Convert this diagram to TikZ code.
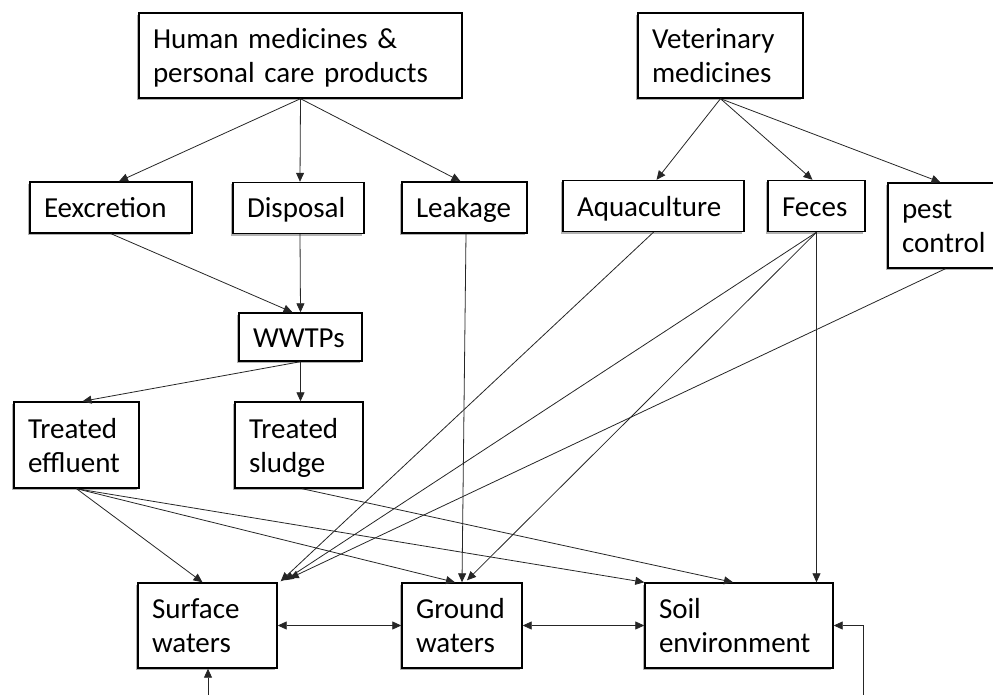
\documentclass[tikz,border=0pt]{standalone}
\usepackage{fontspec}
\setmainfont{Carlito}
\usetikzlibrary{arrows.meta, positioning, shadows}
\tikzset{>={Triangle[length=9pt, width=8pt]}}
\newcommand{\boxstrut}{\rule[-5pt]{0pt}{30pt}}

\begin{document}
\begin{tikzpicture}[x=1pt, y=-1pt,
	box/.style={draw, line width=1.4pt, fill=white, align=left, inner xsep=14pt, inner ysep=0pt,
		font=\fontsize{29}{34}\selectfont,
		execute at begin node={\hyphenpenalty=10000\relax\boxstrut}, execute at end node=\boxstrut,
		drop shadow={shadow xshift=-2pt, shadow yshift=-2pt, opacity=0.3, fill=black}},
	flow/.style={->, line width=0.8pt, draw=black!85}]
\useasboundingbox (0,0) rectangle (993,695);

\node[box, text width=295pt, minimum height=85pt](human) at (300.5,55.5){Human medicines \&\\personal care products};
\node[box, text width=137pt, minimum height=85pt](vet) at (720.5,55.5){Veterinary\\medicines};

\node[box, text width=134pt, minimum height=51pt](exc) at (111,207.5){Eexcretion};
\node[box, text width=103pt, minimum height=51pt](disp) at (298.5,208){Disposal};
\node[box, text width=97pt, minimum height=51pt](leak) at (464.5,207.5){Leakage};
\node[box, text width=153pt, minimum height=51pt](aqua) at (653.5,206){Aquaculture};
\node[box, text width=69pt, minimum height=51pt](feces) at (816.5,206){Feces};
\node[box, text width=87pt, minimum height=85pt](pest) at (945.5,225.5){pest\\control};

\node[box, text width=95pt, minimum height=48pt](wwtps) at (300.5,337){WWTPs};
\node[box, text width=97pt, minimum height=86pt](eff) at (76.5,445){Treated\\effluent};
\node[box, text width=100pt, minimum height=86pt](sludge) at (299,445){Treated\\sludge};

\node[box, text width=111pt, minimum height=85pt](surf) at (207.5,625.5){Surface\\waters};
\node[box, text width=92pt, minimum height=85pt](ground) at (462,625.5){Ground\\waters};
\node[box, text width=160pt, minimum height=85pt](soil) at (739,625.5){Soil\\environment};

\coordinate (inA) at (208,700);
\coordinate (inB) at (863,700);

\draw[flow](human.south)--([xshift=8pt]exc.north);
\draw[flow](human.south)--([xshift=1.5pt]disp.north);
\draw[flow](human.south)--([xshift=-4pt]leak.north);
\draw[flow](vet.south)--([xshift=3pt]aqua.north);
\draw[flow](vet.south)--([xshift=-4pt]feces.north);
\draw[flow](vet.south)--([xshift=-5pt]pest.north);

\draw[flow](exc.south)--([xshift=-8pt]wwtps.north);
\draw[flow]([xshift=1.5pt]disp.south)--(wwtps.north);
\draw[flow](wwtps.south)--([xshift=6pt]eff.north);
\draw[flow](wwtps.south)--([xshift=1.5pt]sludge.north);

\draw[flow](eff.south)--([xshift=-5pt]surf.north);
\draw[flow](eff.south)--([xshift=-7pt]ground.north);
\draw[flow](eff.south)--(soil.north west);
\draw[flow]([xshift=3pt]sludge.south)--([xshift=-6pt]soil.north);

\draw[flow]([xshift=1.5pt]leak.south)--(ground.north);
\draw[flow](aqua.south)--([xshift=3pt, yshift=1pt]surf.north east);
\draw[flow](feces.south)--([xshift=7pt, yshift=2pt]surf.north east);
\draw[flow](pest.south)--([xshift=12pt, yshift=4pt]surf.north east);
\draw[flow](feces.south)--([xshift=5pt, yshift=2pt]ground.north);
\draw[flow](feces.south)--(feces.south |- soil.north);

\draw[flow, <->](surf.east)--(ground.west);
\draw[flow, <->](ground.east)--(soil.west);
\draw[flow](inA)--(inA |- surf.south);
\draw[flow](inB)|-(soil.east);

\end{tikzpicture}
\end{document}
